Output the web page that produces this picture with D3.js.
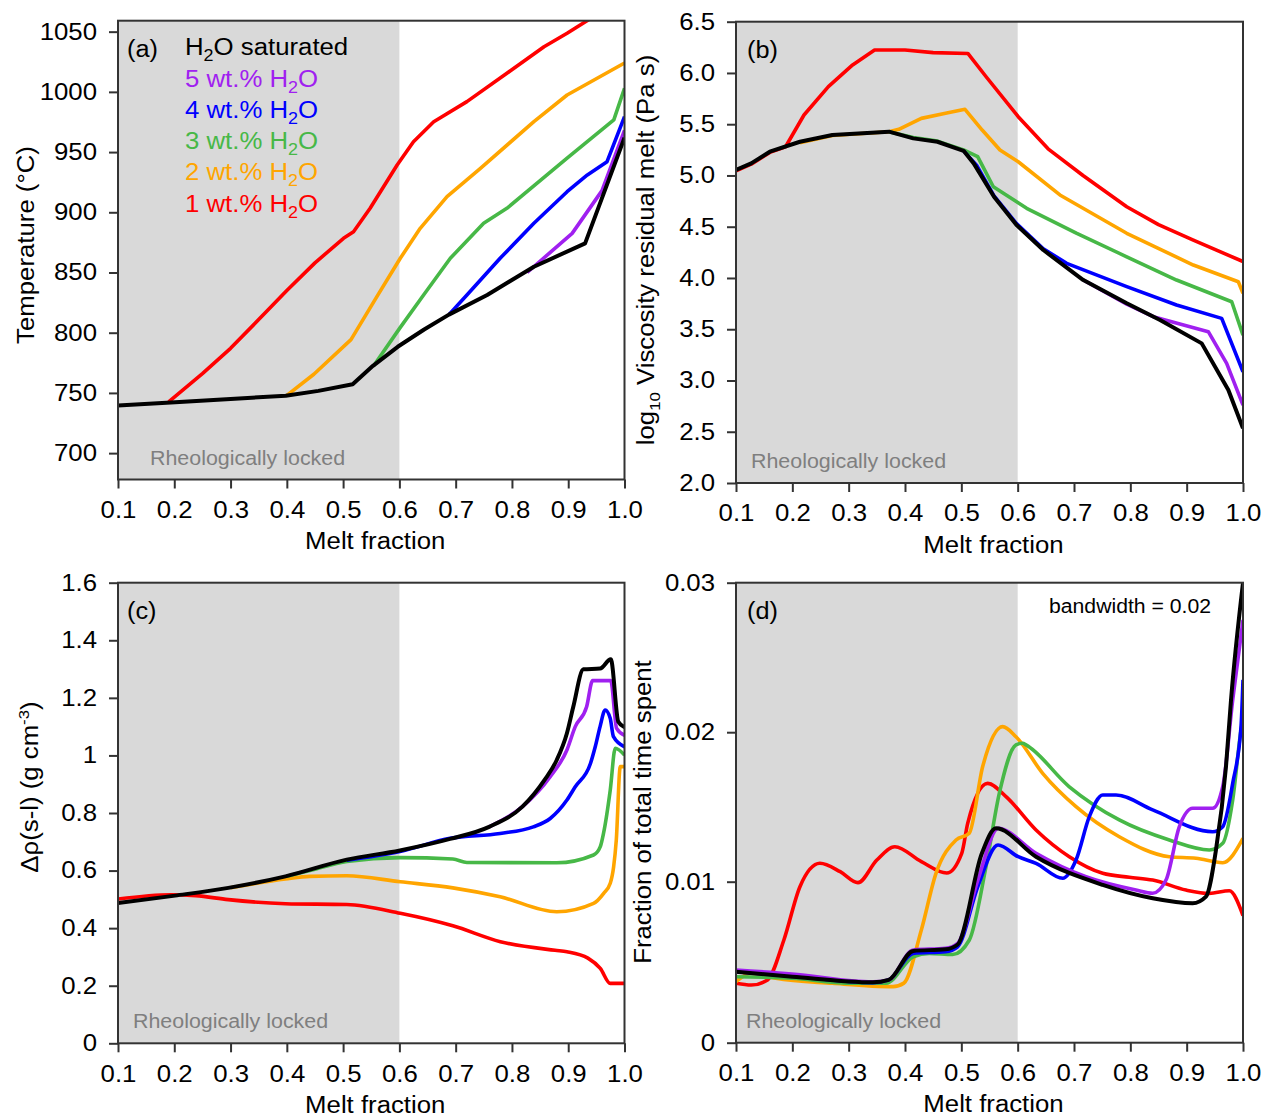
<!DOCTYPE html>
<meta charset="utf-8">
<style>
body { margin: 0; background: #fff; }
svg text { font-family: "Liberation Sans", Arial, sans-serif; }
</style>
<svg width="1264" height="1118"></svg>
<script src="https://d3js.org/d3.v7.min.js"></script>
<script>
// draw order: 1..5 wt.% then saturated on top
var seriesColors = ["#ff0000", "#ffa500", "#47b847", "#0000ff", "#a020f0", "#000000"];
var legendLabels = ["H2O saturated", "5 wt.% H2O", "4 wt.% H2O", "3 wt.% H2O", "2 wt.% H2O", "1 wt.% H2O"];
var meltTicks = [0.1, 0.2, 0.3, 0.4, 0.5, 0.6, 0.7, 0.8, 0.9, 1.0];
var lockedRange = [0.1, 0.6];

// (a) temperature
var tempTicks = [700, 750, 800, 850, 900, 950, 1000, 1050];
var temp1 = [[0.19,742.5],[0.25,766],[0.3,787],[0.347,809.5],[0.4,835],[0.45,858],[0.5007,878.4],[0.5185,883.9],[0.548,903.3],[0.596,939.3],[0.625,958.6],[0.661,975.2],[0.72,991.9],[0.791,1015.4],[0.857,1037.5],[0.898,1048.7],[0.94,1061]];
var temp2 = [[0.4,748],[0.448,765.5],[0.514,794.3],[0.56,830],[0.6016,861.8],[0.637,886.7],[0.6846,913],[0.744,936.5],[0.839,975.3],[0.898,997.4],[1.0,1024]];
var temp3 = [[0.554,772.3],[0.601,804],[0.643,831.3],[0.6905,861.8],[0.7497,890.9],[0.791,903.3],[0.898,944.9],[0.981,976.7],[1.0,1003]];
var temp4 = [[0.688,815],[0.72,831.3],[0.779,861.8],[0.839,890.9],[0.898,917.1],[0.934,931],[0.969,942],[1.0,979.4]];
var temp5 = [[0.827,850],[0.907,882.5],[0.96,918],[1.0,968]];
var tempSat = [[0.1,739.5],[0.194,742],[0.3,745],[0.398,747.6],[0.456,751.7],[0.517,757.2],[0.553,772.5],[0.597,788.3],[0.644,802.7],[0.688,815],[0.756,831.3],[0.839,854.8],[0.93,874.2],[1.0,962]];

// (b) log10 viscosity of residual melt
var viscTicks = [2.0, 2.5, 3.0, 3.5, 4.0, 4.5, 5.0, 5.5, 6.0, 6.5];
var visc1 = [[0.1,5.045],[0.127,5.11],[0.16,5.225],[0.188,5.28],[0.2207,5.59],[0.264,5.866],[0.307,6.078],[0.346,6.224],[0.4,6.224],[0.45,6.198],[0.5116,6.19],[0.544,5.963],[0.601,5.573],[0.654,5.26],[0.716,5.0],[0.7936,4.695],[0.85,4.52],[0.9118,4.37],[1.0,4.16]];
var visc2 = [[0.2135,5.32],[0.271,5.39],[0.3715,5.427],[0.389,5.45],[0.429,5.557],[0.472,5.606],[0.5065,5.645],[0.537,5.443],[0.5686,5.248],[0.601,5.134],[0.675,4.81],[0.7936,4.436],[0.9118,4.126],[0.9917,3.963],[1.0,3.85]];
var visc3 = [[0.3715,5.427],[0.4146,5.37],[0.4576,5.335],[0.504,5.25],[0.529,5.183],[0.5568,4.89],[0.616,4.68],[0.705,4.436],[0.7936,4.207],[0.882,3.98],[0.98,3.768],[1.0,3.443]];
var visc4 = [[0.504,5.24],[0.527,5.1],[0.558,4.8],[0.598,4.53],[0.6455,4.285],[0.687,4.143],[0.7936,3.915],[0.882,3.736],[0.9622,3.606],[1.0,3.085]];
var visc5 = [[0.7165,3.98],[0.7936,3.745],[0.8408,3.622],[0.9384,3.476],[0.971,3.167],[1.0,2.76]];
var viscSat = [[0.1,5.053],[0.127,5.118],[0.16,5.232],[0.2135,5.329],[0.271,5.395],[0.3715,5.427],[0.4146,5.362],[0.4576,5.329],[0.504,5.24],[0.522,5.118],[0.558,4.793],[0.598,4.517],[0.6455,4.273],[0.7165,3.98],[0.7936,3.753],[0.8527,3.59],[0.9267,3.362],[0.974,2.907],[1.0,2.533]];

// (c) density contrast solid - liquid
var densTicks = [0, 0.2, 0.4, 0.6, 0.8, 1.0, 1.2, 1.4, 1.6];
var dens1 = [[0.1,0.501],[0.194,0.516],[0.238,0.513],[0.296,0.499],[0.3976,0.485],[0.5065,0.482],[0.6016,0.4515],[0.695,0.408],[0.7794,0.353],[0.8766,0.323],[0.8977,0.318],[0.935,0.296],[0.957,0.26],[0.9747,0.208],[1.0,0.208]];
var dens2 = [[0.3,0.54],[0.3976,0.571],[0.441,0.58],[0.5065,0.582],[0.6016,0.561],[0.695,0.54],[0.779,0.509],[0.8796,0.457],[0.945,0.486],[0.963,0.521],[0.9747,0.556],[0.9807,0.613],[0.9854,0.706],[0.9925,0.961],[1.0,0.961]];
var dens3 = [[0.4,0.58],[0.45,0.605],[0.5065,0.632],[0.6016,0.645],[0.695,0.64],[0.72,0.628],[0.8796,0.627],[0.945,0.654],[0.957,0.683],[0.9627,0.729],[0.9747,0.88],[0.9836,1.025],[1.0,1.001]];
var dens4 = [[0.5065,0.636],[0.601,0.666],[0.69,0.712],[0.779,0.729],[0.838,0.752],[0.868,0.781],[0.8977,0.845],[0.9125,0.891],[0.9395,0.972],[0.948,1.03],[0.9566,1.1],[0.9657,1.158],[0.9746,1.129],[0.9804,1.065],[1.0,1.03]];
var dens5 = [[0.7594,0.752],[0.8186,0.822],[0.868,0.926],[0.8977,1.019],[0.9125,1.1],[0.9327,1.169],[0.9434,1.26],[0.9755,1.26],[0.986,1.094],[1.0,1.07]];
var densSat = [[0.1,0.487],[0.2016,0.513],[0.296,0.54],[0.3976,0.58],[0.5065,0.638],[0.601,0.67],[0.69,0.71],[0.7594,0.752],[0.8186,0.822],[0.858,0.915],[0.8796,0.984],[0.8977,1.077],[0.909,1.169],[0.927,1.299],[0.9566,1.302],[0.9756,1.334],[0.989,1.117],[1.0,1.098]];

// (d) fraction of total time spent (kernel density)
var timeTicks = [0, 0.01, 0.02, 0.03];
var time1 = [[0.1,0.00369],[0.127,0.00358],[0.156,0.0039],[0.185,0.00638],[0.2135,0.00969],[0.249,0.01123],[0.285,0.01067],[0.3165,0.00994],[0.35,0.01145],[0.382,0.01234],[0.429,0.01134],[0.474,0.01058],[0.5007,0.0119],[0.5113,0.0139],[0.5468,0.01658],[0.5793,0.01569],[0.6326,0.01346],[0.6917,0.01167],[0.751,0.01056],[0.7982,0.0103],[0.8397,0.01011],[0.8988,0.00948],[0.9402,0.00927],[0.9757,0.00944],[1.0,0.0079]];
var time2 = [[0.1,0.00379],[0.127,0.00431],[0.1704,0.004],[0.271,0.00369],[0.3787,0.00348],[0.398,0.0037],[0.429,0.007],[0.455,0.01056],[0.4906,0.01279],[0.514,0.01324],[0.5379,0.0177],[0.5734,0.02037],[0.597,0.0197],[0.6444,0.01725],[0.7036,0.01502],[0.7804,0.01301],[0.8692,0.01167],[0.9166,0.01157],[0.964,0.01127],[1.0,0.0129]];
var time3 = [[0.1,0.0041],[0.199,0.004],[0.307,0.00369],[0.3663,0.0037],[0.4146,0.00534],[0.443,0.00555],[0.4847,0.00548],[0.5142,0.00638],[0.5438,0.011],[0.5674,0.01591],[0.597,0.01915],[0.6089,0.01926],[0.6148,0.01915],[0.6917,0.01635],[0.7804,0.01413],[0.8692,0.01279],[0.9402,0.01212],[0.964,0.01257],[0.9817,0.01547],[0.9965,0.02015],[1.0,0.0209]];
var time4 = [[0.1,0.00441],[0.199,0.00414],[0.3427,0.00373],[0.371,0.0039],[0.4146,0.00555],[0.4719,0.00565],[0.4935,0.00596],[0.5293,0.0097],[0.5652,0.01245],[0.601,0.01167],[0.6326,0.01123],[0.68,0.01023],[0.7036,0.01145],[0.7272,0.01435],[0.751,0.0158],[0.7746,0.0158],[0.8397,0.0148],[0.9462,0.01334],[0.964,0.01368],[0.9817,0.01658],[0.9965,0.02037],[1.0,0.0235]];
var time5 = [[0.1,0.00451],[0.199,0.00427],[0.3427,0.00378],[0.371,0.0039],[0.4146,0.00576],[0.4719,0.00586],[0.4935,0.00617],[0.5293,0.0101],[0.5652,0.01357],[0.6326,0.0119],[0.7213,0.01033],[0.81,0.00948],[0.8397,0.00928],[0.8633,0.01011],[0.887,0.01368],[0.9107,0.01491],[0.9462,0.01491],[0.964,0.01635],[0.9817,0.02215],[1.0,0.0275]];
var timeSat = [[0.1,0.0044],[0.2,0.0041],[0.3427,0.00375],[0.371,0.0039],[0.4146,0.0057],[0.4719,0.0058],[0.4935,0.0061],[0.5365,0.0119],[0.5615,0.01357],[0.6326,0.01167],[0.751,0.0098],[0.8397,0.00897],[0.9107,0.00866],[0.9343,0.00907],[0.952,0.01212],[0.9698,0.0177],[0.9787,0.02215],[1.0,0.030]];

var svg = d3.select("svg");
var stretch = 1.12;

function widen(sel, k) {
  sel.each(function() {
    var w = this.getComputedTextLength();
    this.setAttribute("textLength", w * k);
    this.setAttribute("lengthAdjust", "spacingAndGlyphs");
  });
}

// parts: [text, "sub" | "sup" | ""]
function richText(t, parts, small, shift) {
  var cur = 0;
  parts.forEach(function(p) {
    var target = p[1] === "sub" ? shift : p[1] === "sup" ? -shift - 3 : 0;
    var ts = t.append("tspan").text(p[0]);
    if (target !== cur) ts.attr("dy", target - cur);
    if (p[1]) ts.attr("font-size", small);
    cur = target;
  });
}

var panels = [
  {letter: "(a)", left: 118, right: 624.5, top: 20.7, bottom: 479.5,
   yDomain: [678.1, 1059.1], yTicks: tempTicks, yFmt: d3.format("d"),
   series: [temp1, temp2, temp3, temp4, temp5, tempSat], curve: d3.curveLinear,
   yLabel: [["Temperature (°C)", ""]], yLabelX: 34, yLabelY: 245, lockedX: 32},
  {letter: "(b)", left: 736, right: 1243, top: 21.7, bottom: 483,
   yDomain: [2.0, 6.5], yTicks: viscTicks, yFmt: d3.format(".1f"),
   series: [visc1, visc2, visc3, visc4, visc5, viscSat], curve: d3.curveLinear,
   yLabel: [["log", ""], ["10", "sub"], [" Viscosity residual melt (Pa s)", ""]], yLabelX: 654, yLabelY: 250, lockedX: 15},
  {letter: "(c)", left: 118, right: 624.5, top: 582.7, bottom: 1043.3,
   yDomain: [0, 1.6], yTicks: densTicks, yFmt: function(d) { return (d === 0 || d === 1) ? String(d) : d.toFixed(1); },
   series: [dens1, dens2, dens3, dens4, dens5, densSat], curve: d3.curveMonotoneX,
   yLabel: [["Δρ(s-l) (g cm", ""], ["-3", "sup"], [")", ""]], yLabelX: 38, yLabelY: 787, lockedX: 15},
  {letter: "(d)", left: 736, right: 1243, top: 582.7, bottom: 1042.7,
   yDomain: [0, 0.01, 0.03], yTicks: timeTicks, yFmt: function(d) { return d === 0 ? "0" : d.toFixed(2); },
   series: [time1, time2, time3, time4, time5, timeSat], curve: d3.curveMonotoneX,
   yLabel: [["Fraction of total time spent", ""]], yLabelX: 651, yLabelY: 812, lockedX: 10}
];

panels.forEach(function(p, pi) {
  var h = p.bottom - p.top;
  var x = d3.scaleLinear().domain([0.1, 1.0]).range([p.left, p.right]);
  var y = d3.scaleLinear().domain(p.yDomain)
      .range(p.yDomain.length === 3 ? [p.bottom, p.bottom - 0.35 * h, p.top] : [p.bottom, p.top]);

  var g = svg.append("g");

  g.append("clipPath").attr("id", "clip" + pi)
    .append("rect").attr("x", p.left).attr("y", p.top)
    .attr("width", p.right - p.left).attr("height", h);

  g.append("rect")
      .attr("x", x(lockedRange[0])).attr("y", p.top)
      .attr("width", x(lockedRange[1]) - x(lockedRange[0])).attr("height", h)
      .attr("fill", "#d9d9d9");

  var line = d3.line().x(function(d) { return x(d[0]); }).y(function(d) { return y(d[1]); }).curve(p.curve);

  g.append("g").attr("clip-path", "url(#clip" + pi + ")")
    .selectAll("path").data(p.series).enter().append("path")
      .attr("d", line)
      .attr("fill", "none")
      .attr("stroke", function(d, i) { return seriesColors[i]; })
      .attr("stroke-width", function(d, i) { return i === 5 ? 4 : 3.6; })
      .attr("stroke-linejoin", "round");

  g.append("rect")
      .attr("x", p.left).attr("y", p.top)
      .attr("width", p.right - p.left).attr("height", h)
      .attr("fill", "none").attr("stroke", "#333").attr("stroke-width", 2);

  var yAxis = g.append("g").attr("transform", "translate(" + p.left + ",0)")
      .call(d3.axisLeft(y).tickValues(p.yTicks).tickFormat(p.yFmt).tickSize(9).tickPadding(12));
  var xAxis = g.append("g").attr("transform", "translate(0," + p.bottom + ")")
      .call(d3.axisBottom(x).tickValues(meltTicks).tickFormat(d3.format(".1f")).tickSize(9).tickPadding(13));
  [yAxis, xAxis].forEach(function(a) {
    a.select(".domain").remove();
    a.selectAll("line").attr("stroke", "#333").attr("stroke-width", 2);
    a.selectAll("text").attr("font-size", 23).attr("font-family", null).attr("fill", "#000").call(widen, stretch);
  });

  g.append("text")
      .attr("x", (p.left + p.right) / 2 + 4).attr("y", p.bottom + 69.5)
      .attr("text-anchor", "middle").attr("font-size", 23)
      .text("Melt fraction").call(widen, stretch);

  var yl = g.append("text")
      .attr("transform", "translate(" + p.yLabelX + "," + p.yLabelY + ") rotate(-90)")
      .attr("text-anchor", "middle").attr("font-size", 23);
  richText(yl, p.yLabel, 15, 6);
  yl.call(widen, stretch);

  g.append("text")
      .attr("x", p.left + (pi % 2 === 0 ? 9 : 11)).attr("y", p.top + 36)
      .attr("font-size", 23).text(p.letter).call(widen, 1.1);

  g.append("text")
      .attr("x", p.left + p.lockedX).attr("y", p.bottom - 15)
      .attr("font-size", 20).style("fill", "#7f7f7f")
      .text("Rheologically locked").call(widen, 1.07);

  if (pi === 0) {
    legendLabels.forEach(function(lab, i) {
      var t = g.append("text")
          .attr("x", 185).attr("y", p.top + 34.5 + i * 31.3)
          .attr("font-size", 23)
          .style("fill", seriesColors[5 - i]);
      var parts = lab.split("H2O");
      richText(t, [[parts[0] + "H", ""], ["2", "sub"], ["O" + parts[1], ""]], 16, 6);
      t.call(widen, stretch);
    });
  }
  if (pi === 3) {
    g.append("text")
        .attr("x", 1049).attr("y", p.top + 30.5)
        .attr("font-size", 20).text("bandwidth = 0.02").call(widen, 1.06);
  }
});
</script>
